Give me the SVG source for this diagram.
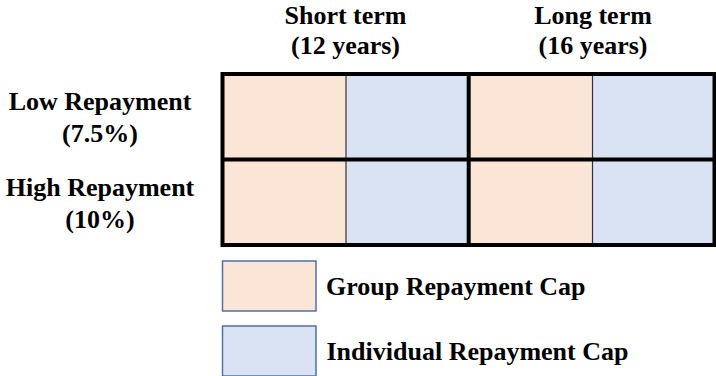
<svg xmlns="http://www.w3.org/2000/svg" width="716" height="376" viewBox="0 0 716 376" font-family="Liberation Serif, DejaVu Serif, serif">
  <style>
    text { font-family: "Liberation Serif", "DejaVu Serif", serif; font-weight: bold; font-size: 26px; fill: #000; }
    .mid { text-anchor: middle; }
    .grp { fill: #FBE5D6; }
    .ind { fill: #DAE3F3; }
    .thin { stroke: #333; stroke-width: 1.2; fill: none; }
    .thick { stroke: #000; stroke-width: 4; fill: none; }
    .sw { stroke: #4F6FAD; stroke-width: 1.5; }
  </style>

  <rect width="716" height="376" fill="#fff"/>

  <!-- column headers -->
  <g id="col-short">
    <text class="mid" font-family="Liberation Serif" x="345.5" y="23.5">Short term</text>
    <text class="mid" font-family="Liberation Serif" x="345.5" y="54">(12 years)</text>
  </g>
  <g id="col-long">
    <text class="mid" font-family="Liberation Serif" x="593" y="23.5">Long term</text>
    <text class="mid" font-family="Liberation Serif" x="593" y="54">(16 years)</text>
  </g>

  <!-- row headers -->
  <g id="row-low">
    <text class="mid" font-family="Liberation Serif" x="100" y="110">Low Repayment</text>
    <text class="mid" font-family="Liberation Serif" x="100" y="142">(7.5%)</text>
  </g>
  <g id="row-high">
    <text class="mid" font-family="Liberation Serif" x="100" y="195.5">High Repayment</text>
    <text class="mid" font-family="Liberation Serif" x="100" y="227.5">(10%)</text>
  </g>

  <!-- grid cells -->
  <g id="grid">
    <rect class="grp" x="222.5" y="74" width="123.5" height="85.5"/>
    <rect class="ind" x="346" y="74" width="122.7" height="85.5"/>
    <rect class="grp" x="468.7" y="74" width="123.8" height="85.5"/>
    <rect class="ind" x="592.5" y="74" width="122" height="85.5"/>
    <rect class="grp" x="222.5" y="159.5" width="123.5" height="85.5"/>
    <rect class="ind" x="346" y="159.5" width="122.7" height="85.5"/>
    <rect class="grp" x="468.7" y="159.5" width="123.8" height="85.5"/>
    <rect class="ind" x="592.5" y="159.5" width="122" height="85.5"/>
    <line class="thin" x1="346" y1="74" x2="346" y2="245"/>
    <line class="thin" x1="592.5" y1="74" x2="592.5" y2="245"/>
    <line class="thick" x1="222.5" y1="159.5" x2="714.5" y2="159.5"/>
    <line class="thick" x1="468.7" y1="74" x2="468.7" y2="245"/>
    <rect class="thick" x="222.5" y="74" width="492" height="171"/>
  </g>

  <!-- legend -->
  <g id="legend-group">
    <rect class="grp sw" x="222.5" y="261" width="93.5" height="50"/>
    <text font-family="Liberation Serif" x="326" y="295">Group Repayment Cap</text>
  </g>
  <g id="legend-individual">
    <rect class="ind sw" x="222.5" y="326" width="93.5" height="50"/>
    <text font-family="Liberation Serif" x="326.5" y="360">Individual Repayment Cap</text>
  </g>
</svg>
